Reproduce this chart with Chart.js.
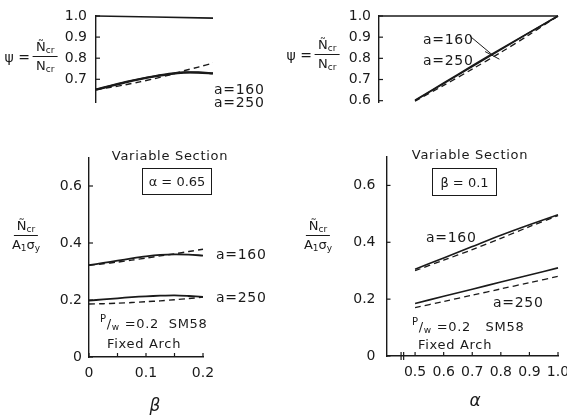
<!DOCTYPE html>
<html>
<head>
<meta charset="utf-8">
<script src="https://cdn.jsdelivr.net/npm/chart.js@4.4.1/dist/chart.umd.min.js"></script>
<style>
  html, body { margin: 0; padding: 0; background: #fff; }
  #fig { position: relative; width: 567px; height: 419px; overflow: hidden;
         font-family: 'DejaVu Sans', sans-serif; color: #1a1a1a; }
  #fig canvas { position: absolute; left: 0; top: 0; }
  .t { position: absolute; white-space: nowrap; line-height: 1; font-size: 13px; }
  .c { transform: translate(-50%, -50%); }
  .l { transform: translateY(-50%); }
  .sp { letter-spacing: 0.7px; }
  .ylab { display: flex; align-items: center; gap: 3px; }
  .frac { display: inline-flex; flex-direction: column; align-items: center; }
  .frac .num { padding: 0 3px 1px; border-bottom: 1.3px solid #1a1a1a; }
  .frac .den { padding: 2px 3px 0; }
  sub { font-size: 9px; vertical-align: -2px; }
  .box { position: absolute; border: 1.3px solid #1a1a1a; display: flex;
         align-items: center; justify-content: center; font-size: 13px; }
  .sym { font-size: 17px; font-style: italic; }
</style>
</head>
<body>
<div id="fig">
  <canvas id="tl" width="567" height="419"></canvas>
  <canvas id="tr" width="567" height="419"></canvas>
  <canvas id="bl" width="567" height="419"></canvas>
  <canvas id="br" width="567" height="419"></canvas>

  <!-- left column -->
  <div class="t c ylab" style="left:31px;top:57px"><span style="font-size:14px">ψ =</span>
    <span class="frac"><span class="num">Ñ<sub>cr</sub></span><span class="den">N<sub>cr</sub></span></span></div>
  <div class="t l sp" style="left:214px;top:89px;font-size:14px">a=160</div>
  <div class="t l sp" style="left:214px;top:102px;font-size:14px">a=250</div>
  <div class="t c sp" style="left:170px;top:155px">Variable Section</div>
  <div class="box" style="left:142px;top:168px;width:68px;height:25px">α = 0.65</div>
  <div class="t c ylab" style="left:26px;top:236px">
    <span class="frac"><span class="num">Ñ<sub>cr</sub></span><span class="den">A<sub>1</sub>σ<sub>y</sub></span></span></div>
  <div class="t l sp" style="left:216px;top:254px;font-size:14px">a=160</div>
  <div class="t l sp" style="left:216px;top:297px;font-size:14px">a=250</div>
  <div class="t l sp" style="left:100px;top:323px"><sup style="font-size:10px">P</sup>/<sub>w</sub> =0.2&nbsp;&nbsp;SM58</div>
  <div class="t l sp" style="left:107px;top:343px">Fixed Arch</div>
  <div class="t c sym" style="left:155px;top:405px">β</div>

  <!-- right column -->
  <div class="t c ylab" style="left:313px;top:55px"><span style="font-size:14px">ψ =</span>
    <span class="frac"><span class="num">Ñ<sub>cr</sub></span><span class="den">N<sub>cr</sub></span></span></div>
  <div class="t l sp" style="left:423px;top:39px;font-size:14px">a=160</div>
  <div class="t l sp" style="left:423px;top:60px;font-size:14px">a=250</div>
  <div class="t c sp" style="left:470px;top:154px">Variable Section</div>
  <div class="box" style="left:432px;top:168px;width:63px;height:26px">β = 0.1</div>
  <div class="t c ylab" style="left:318px;top:236px">
    <span class="frac"><span class="num">Ñ<sub>cr</sub></span><span class="den">A<sub>1</sub>σ<sub>y</sub></span></span></div>
  <div class="t l sp" style="left:426px;top:237px;font-size:14px">a=160</div>
  <div class="t l sp" style="left:493px;top:302px;font-size:14px">a=250</div>
  <div class="t l sp" style="left:412px;top:326px"><sup style="font-size:10px">P</sup>/<sub>w</sub> =0.2&nbsp;&nbsp;&nbsp;SM58</div>
  <div class="t l sp" style="left:418px;top:344px">Fixed Arch</div>
  <div class="t c sym" style="left:475px;top:400px">α</div>
</div>

<script>
const INK = '#1a1a1a';

// ---- top left: psi vs beta (alpha = 0.65)
const BETA        = [0, 0.025, 0.05, 0.075, 0.1, 0.125, 0.15, 0.175, 0.2];
const BETA_ENDS   = [0, 0.2];
const PSI_B_TOP   = [1.0, 0.99];
const PSI_B_160   = [0.652, 0.670, 0.687, 0.702, 0.715, 0.726, 0.733, 0.733, 0.729];
const PSI_B_250   = [0.650, 0.668, 0.685, 0.700, 0.713, 0.724, 0.731, 0.731, 0.727];
const PSI_B_DASH  = [0.652, 0.662, 0.674, 0.688, 0.703, 0.720, 0.740, 0.758, 0.777];

// ---- bottom left: Ncr / A1 sigma_y vs beta
const N_B_160     = [0.322, 0.330, 0.338, 0.346, 0.353, 0.358, 0.360, 0.359, 0.356];
const N_B_160_D   = [0.322, 0.327, 0.333, 0.340, 0.347, 0.355, 0.362, 0.370, 0.378];
const N_B_250     = [0.198, 0.202, 0.206, 0.210, 0.213, 0.215, 0.216, 0.214, 0.211];
const N_B_250_D   = [0.186, 0.187, 0.189, 0.191, 0.194, 0.197, 0.201, 0.205, 0.210];

// ---- top right: psi vs alpha (beta = 0.1)
const ALPHA       = [0.5, 0.6, 0.7, 0.8, 0.9, 1.0];
const ALPHA_ENDS  = [0.374, 1.0];
const PSI_A_TOP   = [1.0, 1.0];
const PSI_A_160   = [0.602, 0.684, 0.765, 0.845, 0.923, 1.0];
const PSI_A_250   = [0.600, 0.681, 0.761, 0.841, 0.921, 1.0];
const PSI_A_DASH  = [0.598, 0.672, 0.749, 0.828, 0.912, 1.0];

// ---- bottom right: Ncr / A1 sigma_y vs alpha
const N_A_160     = [0.305, 0.345, 0.385, 0.425, 0.462, 0.497];
const N_A_160_D   = [0.300, 0.337, 0.374, 0.414, 0.455, 0.494];
const N_A_250     = [0.185, 0.210, 0.235, 0.260, 0.285, 0.310];
const N_A_250_D   = [0.170, 0.192, 0.214, 0.236, 0.258, 0.280];

// ---- ticks
const PSI_TICKS_L   = [0.7, 0.8, 0.9, 1.0];
const PSI_LABELS_L  = ['0.7', '0.8', '0.9', '1.0'];
const PSI_TICKS_R   = [0.6, 0.7, 0.8, 0.9, 1.0];
const PSI_LABELS_R  = ['0.6', '0.7', '0.8', '0.9', '1.0'];
const N_TICKS       = [0, 0.2, 0.4, 0.6];
const N_LABELS      = ['0', '0.2', '0.4', '0.6'];
const BETA_TICKS    = [0, 0.05, 0.1, 0.15, 0.2];
const BETA_LABELS   = ['0', '', '0.1', '', '0.2'];
const ALPHA_TICKS   = [0.5, 0.6, 0.7, 0.8, 0.9, 1.0];
const ALPHA_LABELS  = ['0.5', '0.6', '0.7', '0.8', '0.9', '1.0'];
const ALPHA_BREAK   = [0.451, 0.46];

// leader lines in the top right panel: label end -> point on curve
const LEADERS_TR = [
  { from: [0.692, 0.905], to: [0.77, 0.817] },
  { from: [0.745, 0.832], to: [0.795, 0.796] }
];

const tickFont = { family: "'DejaVu Sans', sans-serif", size: 14 };

// ticks drawn inside the plot (as in the original figure), plus axis break and leaders
const inwardTicks = {
  id: 'inwardTicks',
  afterDraw(chart, args, opts) {
    const ctx = chart.ctx, area = chart.chartArea;
    const len = opts.len || 4;
    ctx.save();
    ctx.strokeStyle = INK;
    ctx.lineWidth = 1.2;
    Object.values(chart.scales).forEach(s => {
      if (!s.options.display) return;
      s.ticks.forEach(t => {
        const p = s.getPixelForValue(t.value);
        ctx.beginPath();
        if (s.isHorizontal()) { ctx.moveTo(p, area.bottom); ctx.lineTo(p, area.bottom - len); }
        else { ctx.moveTo(area.left, p); ctx.lineTo(area.left + len, p); }
        ctx.stroke();
      });
    });
    (opts.breaks || []).forEach(v => {
      const p = chart.scales.x.getPixelForValue(v);
      ctx.beginPath();
      ctx.moveTo(p, area.bottom - 4);
      ctx.lineTo(p, area.bottom + 4);
      ctx.stroke();
    });
    ctx.lineWidth = 1;
    (opts.leaders || []).forEach(ld => {
      const x = chart.scales.x, y = chart.scales.y;
      ctx.beginPath();
      ctx.moveTo(x.getPixelForValue(ld.from[0]), y.getPixelForValue(ld.from[1]));
      ctx.lineTo(x.getPixelForValue(ld.to[0]), y.getPixelForValue(ld.to[1]));
      ctx.stroke();
    });
    ctx.restore();
  }
};

function series(xs, ys, dashed, width) {
  return {
    data: xs.map((x, i) => ({ x, y: ys[i] })),
    borderColor: INK,
    borderWidth: width,
    borderDash: dashed ? [6, 4] : [],
    pointRadius: 0,
    tension: 0.3,
    fill: false,
    clip: false
  };
}

function makePanel(id, cfg) {
  const ctx = document.getElementById(id).getContext('2d');
  return new Chart(ctx, {
    type: 'line',
    data: { datasets: cfg.datasets },
    plugins: [inwardTicks],
    options: {
      responsive: false,
      animation: false,
      events: [],
      layout: { padding: cfg.padding },
      plugins: {
        legend: { display: false },
        tooltip: { enabled: false },
        inwardTicks: { len: 4, breaks: cfg.breaks, leaders: cfg.leaders }
      },
      scales: {
        x: {
          type: 'linear',
          display: cfg.x.display,
          min: cfg.x.min,
          max: cfg.x.max,
          afterBuildTicks: s => { s.ticks = cfg.x.ticks.map(v => ({ value: v })); },
          afterFit: s => { s.height = 30; s.paddingLeft = 0; s.paddingRight = 0; },
          grid: { display: false, drawTicks: false },
          border: { display: true, color: INK, width: 1.4 },
          ticks: {
            autoSkip: false, maxRotation: 0, padding: 8, color: INK, font: tickFont,
            callback: (v, i) => cfg.x.labels[i]
          }
        },
        y: {
          min: cfg.y.min,
          max: cfg.y.max,
          afterBuildTicks: s => { s.ticks = cfg.y.ticks.map(v => ({ value: v })); },
          afterFit: s => { s.width = 40; s.paddingTop = 0; s.paddingBottom = 0; },
          grid: { display: false, drawTicks: false },
          border: { display: true, color: INK, width: 1.4 },
          ticks: {
            autoSkip: false, padding: cfg.y.gap, color: INK, font: tickFont,
            callback: (v, i) => cfg.y.labels[i]
          }
        }
      }
    }
  });
}

makePanel('tl', {
  padding: { left: 56, right: 354, top: 16, bottom: 286.5 },
  x: { display: false, min: 0, max: 0.2, ticks: BETA_TICKS, labels: BETA_LABELS },
  y: { min: 0.59, max: 1.0, ticks: PSI_TICKS_L, labels: PSI_LABELS_L, gap: 9 },
  datasets: [
    series(BETA_ENDS, PSI_B_TOP, false, 1.6),
    series(BETA, PSI_B_160, false, 2),
    series(BETA, PSI_B_250, false, 2),
    series(BETA, PSI_B_DASH, true, 1.4)
  ]
});

makePanel('tr', {
  padding: { left: 339, right: 9, top: 16, bottom: 286.2 },
  x: { display: false, min: 0.374, max: 1.0, ticks: ALPHA_TICKS, labels: ALPHA_LABELS },
  y: { min: 0.59, max: 1.0, ticks: PSI_TICKS_R, labels: PSI_LABELS_R, gap: 8 },
  leaders: LEADERS_TR,
  datasets: [
    series(ALPHA_ENDS, PSI_A_TOP, false, 1.6),
    series(ALPHA, PSI_A_160, false, 1.5),
    series(ALPHA, PSI_A_250, false, 1.5),
    series(ALPHA, PSI_A_DASH, true, 1.3)
  ]
});

makePanel('bl', {
  padding: { left: 49, right: 364, top: 157.5, bottom: 32 },
  x: { display: true, min: 0, max: 0.2, ticks: BETA_TICKS, labels: BETA_LABELS },
  y: { min: 0, max: 0.7, ticks: N_TICKS, labels: N_LABELS, gap: 7 },
  datasets: [
    series(BETA, N_B_160, false, 1.8),
    series(BETA, N_B_160_D, true, 1.4),
    series(BETA, N_B_250, false, 1.8),
    series(BETA, N_B_250_D, true, 1.4)
  ]
});

makePanel('br', {
  padding: { left: 346.5, right: 9, top: 157, bottom: 33 },
  x: { display: true, min: 0.4, max: 1.0, ticks: ALPHA_TICKS, labels: ALPHA_LABELS },
  y: { min: 0, max: 0.7, ticks: N_TICKS, labels: N_LABELS, gap: 11 },
  breaks: ALPHA_BREAK,
  datasets: [
    series(ALPHA, N_A_160, false, 1.6),
    series(ALPHA, N_A_160_D, true, 1.3),
    series(ALPHA, N_A_250, false, 1.6),
    series(ALPHA, N_A_250_D, true, 1.3)
  ]
});
</script>
</body>
</html>
